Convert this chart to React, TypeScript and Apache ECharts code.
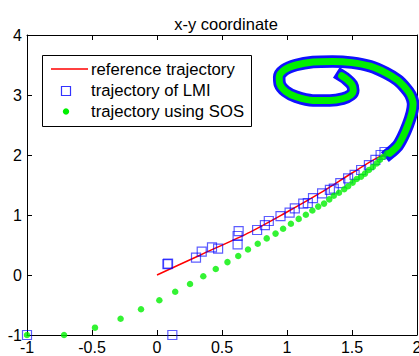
import { useEffect, useRef } from "react";
import * as echarts from "echarts";

const titleText = "x-y coordinate";
const xTicks = [-1, -0.5, 0, 0.5, 1, 1.5, 2];
const yTicks = [-1, 0, 1, 2, 3, 4];
const legendLabels = ["reference trajectory", "trajectory of LMI", "trajectory using SOS"];

// reference trajectory, lower branch (before it merges into the spiral band)
const refLead: number[][] = [
  [0, 0], [0.33, 0.33], [0.72, 0.72], [1.0, 1.05], [1.25, 1.36], [1.5, 1.7], [1.7, 1.96],
];

// common spiral path where the dense markers form a continuous band
const spiralPath: number[][] = [
  [1.79, 2.03], [1.85, 2.15], [1.89, 2.3], [1.93, 2.5], [1.96, 2.7], [1.97, 2.85],
  [1.95, 3.0], [1.91, 3.12], [1.85, 3.25], [1.76, 3.37], [1.64, 3.48], [1.5, 3.54],
  [1.35, 3.56], [1.2, 3.55], [1.07, 3.5], [0.98, 3.42], [0.94, 3.3], [0.945, 3.18],
  [0.99, 3.06], [1.07, 2.97], [1.2, 2.91], [1.33, 2.91], [1.43, 2.94], [1.49, 3.0],
  [1.51, 3.08], [1.5, 3.17], [1.46, 3.26], [1.42, 3.32],
];

// trajectory of LMI (individually visible squares)
const lmiPoints: number[][] = [
  [-1, -1], [0.118, -1], [0.08, 0.18], [0.085, 0.19], [0.3, 0.29], [0.344, 0.39],
  [0.423, 0.46], [0.47, 0.44], [0.62, 0.51], [0.62, 0.65], [0.628, 0.73], [0.77, 0.75],
  [0.83, 0.83], [0.86, 0.9], [0.95, 0.98], [1.02, 1.04], [1.06, 1.11], [1.125, 1.19],
  [1.16, 1.2], [1.2, 1.28], [1.27, 1.36], [1.33, 1.42], [1.36, 1.44], [1.41, 1.53],
  [1.47, 1.61], [1.52, 1.67], [1.57, 1.75], [1.63, 1.83], [1.68, 1.92], [1.72, 2.0],
  [1.75, 2.05],
];

// trajectory using SOS (individually visible dots)
const sosPoints: number[][] = [
  [-1, -1], [-0.715, -1], [-0.477, -0.878], [-0.28, -0.73], [-0.123, -0.57], [0.018, -0.42],
  [0.14, -0.28], [0.254, -0.15], [0.356, -0.02], [0.452, 0.1], [0.542, 0.215], [0.625, 0.317],
  [0.7, 0.425], [0.775, 0.52], [0.844, 0.61], [0.912, 0.69], [0.97, 0.77], [1.03, 0.855],
  [1.09, 0.935], [1.145, 1.005], [1.195, 1.075], [1.24, 1.14], [1.285, 1.19], [1.325, 1.26],
  [1.36, 1.32], [1.4, 1.37], [1.44, 1.43], [1.47, 1.48], [1.505, 1.54], [1.536, 1.6],
  [1.57, 1.64], [1.6, 1.69], [1.63, 1.75], [1.66, 1.8], [1.69, 1.86], [1.715, 1.92],
  [1.74, 1.97], [1.77, 2.03],
];

const FONT = "Liberation Sans, Arial, sans-serif";
const RED = "#ff0000";
const BLUE = "rgba(0,0,255,0.8)";
const GREEN = "#00f000";

export default function App() {
  const ref = useRef<HTMLDivElement>(null);

  useEffect(() => {
    if (!ref.current) return;
    const chart = echarts.init(ref.current, null, { renderer: "svg" });

    const xMin = xTicks[0];
    const xMax = xTicks[xTicks.length - 1];
    const xInt = xTicks[1] - xTicks[0];
    const yMin = yTicks[0];
    const yMax = yTicks[yTicks.length - 1];
    const yInt = yTicks[1] - yTicks[0];

    const axisCommon = {
      type: "value" as const,
      axisLine: { show: true, onZero: false, lineStyle: { color: "#000", width: 1 } },
      axisTick: { show: true, inside: true, length: 5, lineStyle: { color: "#000", width: 1 } },
      splitLine: { show: false },
    };
    const labelStyle = {
      color: "#000",
      fontSize: 16,
      fontFamily: FONT,
      showMinLabel: true,
      showMaxLabel: true,
    };

    chart.setOption({
      animation: false,
      backgroundColor: "#fff",
      title: {
        text: titleText,
        left: 221,
        top: 10,
        textAlign: "center",
        textStyle: { fontSize: 16.5, fontWeight: "normal", fontFamily: FONT, color: "#000" },
      },
      grid: { left: 27, right: 2, top: 35, bottom: 21, containLabel: false, outerBoundsMode: "none" },
      xAxis: [
        { ...axisCommon, position: "bottom", min: xMin, max: xMax, interval: xInt,
          axisLabel: { ...labelStyle, margin: 4 } },
        { ...axisCommon, position: "top", min: xMin, max: xMax, interval: xInt,
          axisLabel: { show: false } },
      ],
      yAxis: [
        { ...axisCommon, position: "left", min: yMin, max: yMax, interval: yInt,
          axisLabel: { ...labelStyle, margin: 5 } },
        { ...axisCommon, position: "right", min: yMin, max: yMax, interval: yInt,
          axisLabel: { show: false } },
      ],
      series: [
        {
          name: legendLabels[0],
          type: "line",
          data: [...refLead, ...spiralPath],
          showSymbol: false,
          smooth: 0.3,
          lineStyle: { color: RED, width: 1.5 },
          silent: true,
          z: 1,
        },
        {
          name: legendLabels[1] + " band",
          type: "line",
          data: spiralPath,
          showSymbol: false,
          smooth: 0.3,
          lineStyle: { color: "#1010ff", width: 12.5, cap: "square", join: "round" },
          silent: true,
          z: 2,
        },
        {
          name: legendLabels[1],
          type: "scatter",
          data: lmiPoints,
          symbol: "rect",
          symbolSize: 9,
          itemStyle: { color: "rgba(0,0,0,0)", borderColor: BLUE, borderWidth: 1.2 },
          silent: true,
          z: 3,
        },
        {
          name: legendLabels[2] + " band",
          type: "line",
          data: spiralPath,
          showSymbol: false,
          smooth: 0.3,
          lineStyle: { color: GREEN, width: 7, cap: "round", join: "round" },
          silent: true,
          z: 4,
        },
        {
          name: legendLabels[2],
          type: "scatter",
          data: sosPoints,
          symbol: "circle",
          symbolSize: 6.5,
          itemStyle: { color: GREEN },
          silent: true,
          z: 5,
        },
      ],
      graphic: [
        {
          type: "rect",
          shape: { x: 42.5, y: 55.5, width: 209, height: 71 },
          style: { fill: "#fff", stroke: "#000", lineWidth: 1 },
          z: 100,
        },
        {
          type: "line",
          shape: { x1: 51, y1: 69, x2: 88, y2: 69 },
          style: { stroke: RED, lineWidth: 1.5 },
          z: 101,
        },
        {
          type: "rect",
          shape: { x: 61.5, y: 86.5, width: 9, height: 9 },
          style: { fill: "none", stroke: BLUE, lineWidth: 1.2 },
          z: 101,
        },
        {
          type: "circle",
          shape: { cx: 66, cy: 111.5, r: 3.2 },
          style: { fill: GREEN },
          z: 101,
        },
        ...legendLabels.map((t, i) => ({
          type: "text",
          x: 91,
          y: [69, 90.5, 111.5][i],
          style: {
            text: t,
            fontSize: 16.7,
            fontFamily: FONT,
            fill: "#000",
            align: "left",
            verticalAlign: "middle",
          },
          z: 101,
        })),
      ],
    });

    return () => chart.dispose();
  }, []);

  return (
    <div
      ref={ref}
      style={{ position: "fixed", left: 0, top: 0, width: 419, height: 356 }}
    />
  );
}
